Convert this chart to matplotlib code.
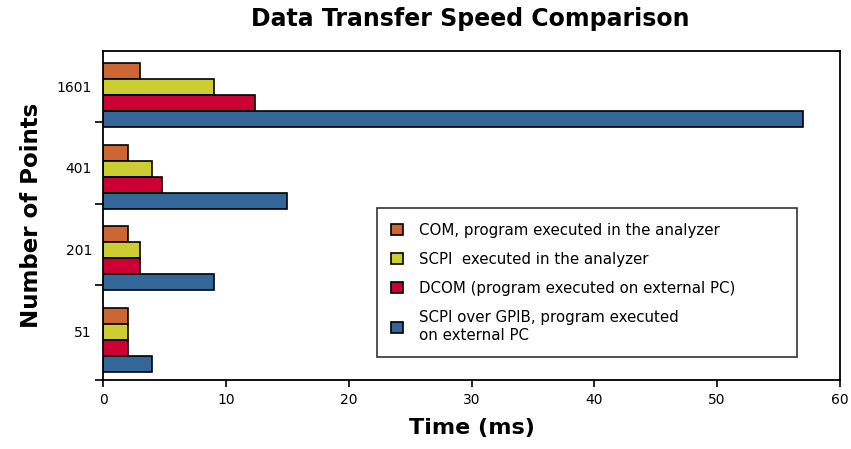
import numpy as np
import matplotlib
matplotlib.use('Agg')
import matplotlib.pyplot as plt

# categories, bottom to top
puntos = ['51', '201', '401', '1601']

# tempos em ms
com = [2, 2, 2, 3]
scpi = [2, 3, 4, 9]
dcom = [2, 3, 4.8, 12.4]
gpib = [4, 9, 15, 57]

rotulos = ['COM, program executed in the analyzer',
           'SCPI  executed in the analyzer',
           'DCOM (program executed on external PC)',
           'SCPI over GPIB, program executed\non external PC']
cores = ['#CC6633', '#CCCC33', '#CC0033', '#336699']

fig = plt.figure(figsize=(8.51, 4.49), dpi=100)
ax = fig.add_axes([103/851, 1-380/449, 737/851, 329/449])

y = np.arange(len(puntos))
h = 0.196
series = [com, scpi, dcom, gpib]
for k, (s, c, r) in enumerate(zip(series, cores, rotulos)):
    ax.barh(y + (1.5 - k)*h, s, height=h, color=c, edgecolor='black',
            linewidth=1.2, label=r)

ax.set_xlim(0, 60)
ax.set_ylim(-0.49, 3.54)
ax.set_xticks(range(0, 61, 10))
ax.tick_params(axis='x', direction='out', length=5, width=1.2,
               labelsize=10, pad=4, colors='black')

# group labels and separator ticks
ax.set_yticks(y + 0.11)
ax.set_yticklabels(puntos)
ax.tick_params(axis='y', length=0, labelsize=10, pad=8)
ax.set_yticks(list(y[1:] - 0.33) + [-0.49], minor=True)
ax.tick_params(axis='y', which='minor', length=6, width=1.2)

for sp in ax.spines.values():
    sp.set_linewidth(1.3)
    sp.set_color('black')

fig.text(470/851, 1-19/449, 'Data Transfer Speed Comparison',
         ha='center', va='center', fontsize=17, fontweight='bold')
ax.set_xlabel('Time (ms)', fontsize=16, fontweight='bold', labelpad=8)
ax.set_ylabel('Number of Points', fontsize=16.5, fontweight='bold', labelpad=10)

leg = ax.legend(loc='lower left', bbox_to_anchor=(0.372, 0.07, 0.57, 0.45),
                mode='expand', borderaxespad=0, fontsize=10.8, frameon=True,
                fancybox=False, edgecolor='black', handlelength=0.75,
                handleheight=0.75, labelspacing=0.95, borderpad=0.95,
                handletextpad=1.1)
leg.get_frame().set_linewidth(1.2)

plt.savefig('out.png', dpi=100)
